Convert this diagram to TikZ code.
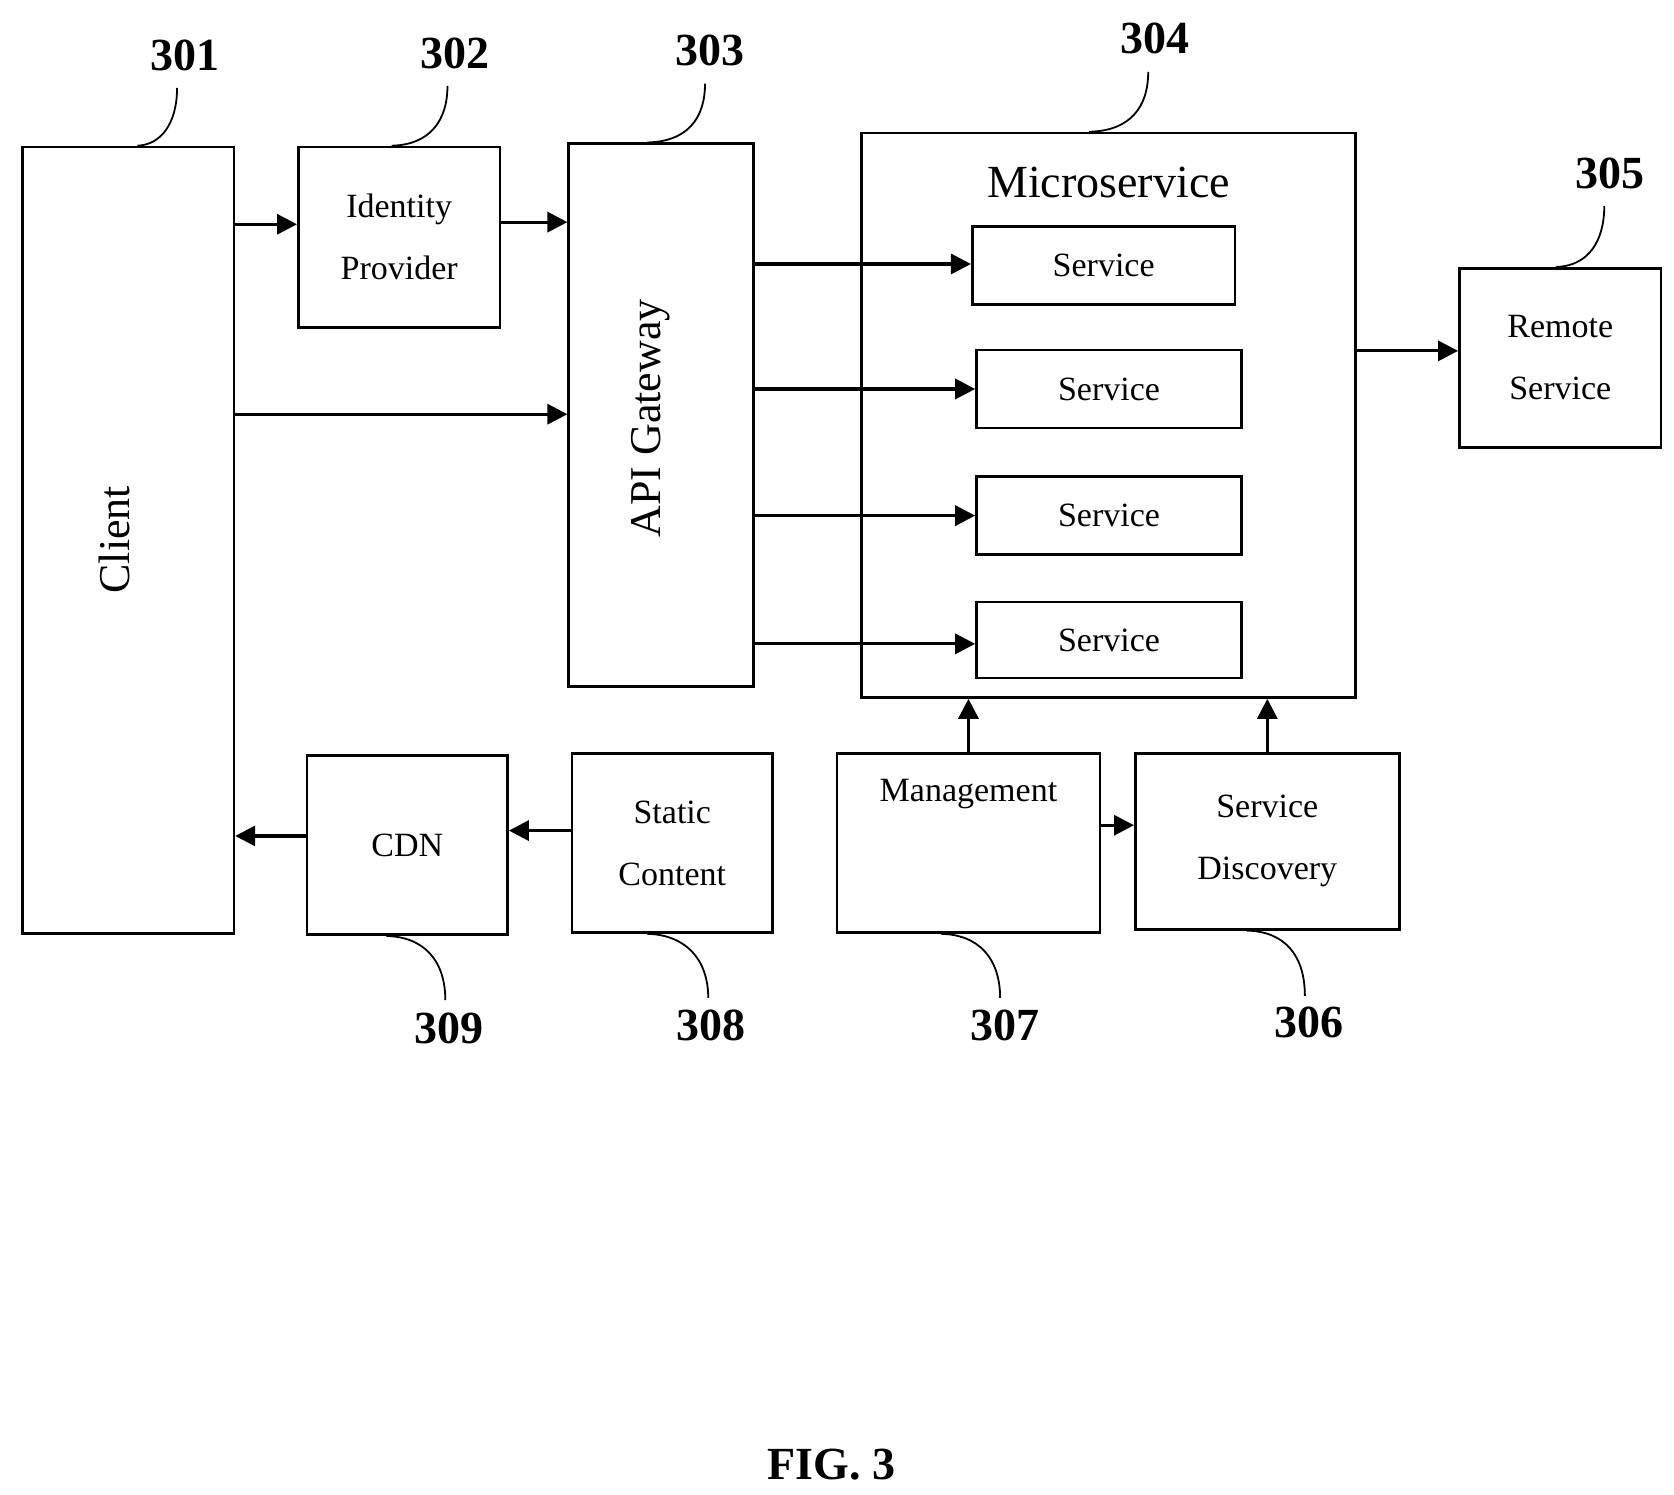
\documentclass[tikz,border=0pt]{standalone}
\usepackage{fontspec}
\setmainfont{Liberation Serif}
\usetikzlibrary{arrows.meta}
\begin{document}
\begin{tikzpicture}[x=0.5365pt,y=-0.5365pt,
  box/.style 2 args={draw,line width=1.3pt,inner sep=0pt,minimum width=#1*0.5365pt,minimum height=#2*0.5365pt,font=\fontsize{17}{31}\selectfont,align=center},
  arr/.style={line width=1.6pt,-{Triangle[length=10pt,width=10pt]}},
  lead/.style={line width=0.9pt},
  num/.style={font=\fontsize{23}{25}\selectfont\bfseries}]
\useasboundingbox (0,0) rectangle (1560,1393);
\node[box={197}{733}] (client) at (119.5,503.5) {};
\node[rotate=90,font=\fontsize{22}{24}\selectfont] (clientt) at (107,503) {Client};
\node[box={188}{168}] (idp) at (372,221) {Identity\\Provider};
\node[box={172}{506}] (api) at (616,387) {};
\node[rotate=90,font=\fontsize{22}{24}\selectfont] (apit) at (606,390) {API Gateway};
\node[box={460}{526}] (ms) at (1033,387) {};
\node[font=\fontsize{23}{25}\selectfont] (mst) at (1033,170) {Microservice};
\node[box={245}{73}] (s1) at (1028.5,247.5) {Service};
\node[box={247}{73}] (s2) at (1033.5,362.5) {Service};
\node[box={247}{73}] (s3) at (1033.5,480.5) {Service};
\node[box={247}{71}] (s4) at (1033.5,596.5) {Service};
\node[box={188}{167}] (remote) at (1454,333.5) {Remote\\Service};
\node[box={187}{167}] (cdn) at (379.5,787.5) {CDN};
\node[box={187}{167}] (static) at (626.5,785.5) {Static\\Content};
\node[box={245}{167}] (mgmt) at (902.5,785.5) {Management\\[22pt]};
\node[box={246}{164}] (sd) at (1181,784) {Service\\Discovery};
% arrows
\draw[arr] (client.east |- 0,209) -- (idp.west |- 0,209);
\draw[arr] (idp.east |- 0,207) -- (api.west |- 0,207);
\draw[arr] (client.east |- 0,386) -- (api.west |- 0,386);
\draw[arr] (api.east |- 0,246) -- (s1.west |- 0,246);
\draw[arr] (api.east |- s2.west) -- (s2.west);
\draw[arr] (api.east |- s3.west) -- (s3.west);
\draw[arr] (api.east |- 0,600) -- (s4.west |- 0,600);
\draw[arr] (ms.east |- 0,327) -- (remote.west |- 0,327);
\draw[arr] (mgmt.north) -- (ms.south -| mgmt.north);
\draw[arr] (sd.north) -- (ms.south -| sd.north);
\draw[arr] (mgmt.east |- 0,769) -- (sd.west |- 0,769);
\draw[arr] (static.west |- 0,774) -- (cdn.east |- 0,774);
\draw[arr] (cdn.west |- 0,779) -- (client.east |- 0,779);
% reference numerals
\node[num] (n301) at (172,52) {301};
\node[num] (n302) at (424,50) {302};
\node[num] (n303) at (662,47) {303};
\node[num] (n304) at (1076,36) {304};
\node[num] (n305) at (1500,162) {305};
\node[num] (n309) at (418,958) {309};
\node[num] (n308) at (663,956) {308};
\node[num] (n307) at (937,956) {307};
\node[num] (n306) at (1220,953) {306};
\draw[lead] (165,82) .. controls (165,115) and (150,135) .. (client.north -| 128,0);
\draw[lead] (417,80) .. controls (417,113) and (400,135) .. (idp.north -| 365,0);
\draw[lead] (657,78) .. controls (657,111) and (640,132) .. (api.north -| 603,0);
\draw[lead] (1070,67) .. controls (1070,100) and (1053,122) .. (ms.north -| 1015,0);
\draw[lead] (1495,192) .. controls (1495,225) and (1480,248) .. (remote.north -| 1450,0);
\draw[lead] (cdn.south -| 360,0) .. controls (395,873) and (415,895) .. (415,932);
\draw[lead] (static.south -| 603,0) .. controls (638,871) and (660,893) .. (660,930);
\draw[lead] (mgmt.south -| 877,0) .. controls (912,871) and (932,893) .. (932,930);
\draw[lead] (sd.south -| 1162,0) .. controls (1197,868) and (1216,890) .. (1216,928);
\node[font=\fontsize{23}{25}\selectfont\bfseries] (fig) at (775,1365) {FIG. 3};
\end{tikzpicture}
\end{document}
